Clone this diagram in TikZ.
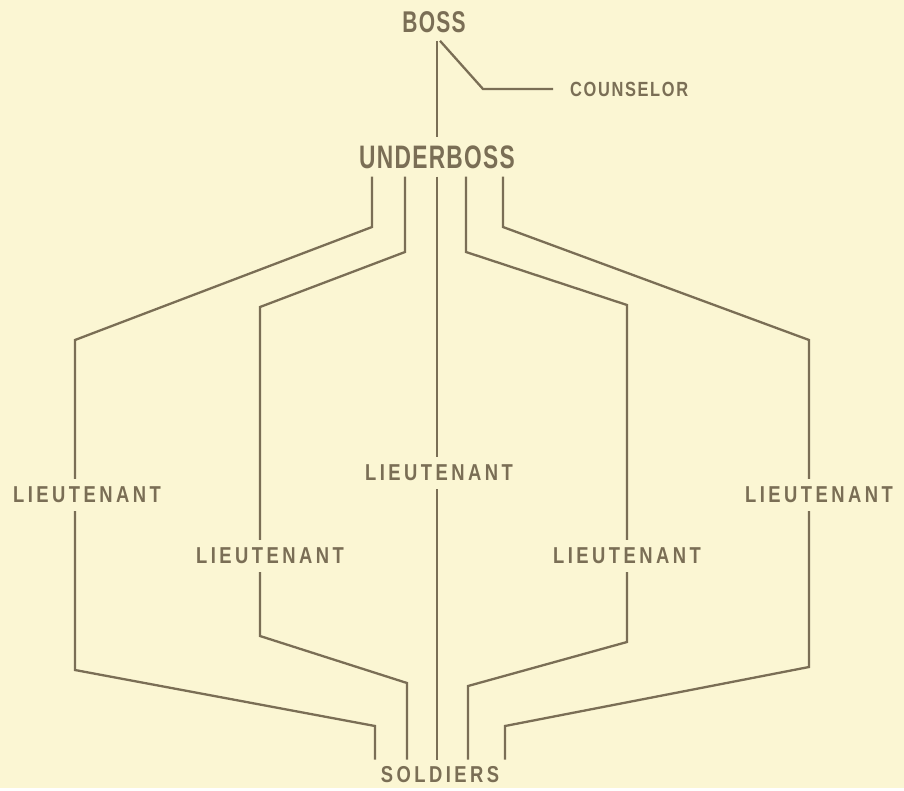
\documentclass[tikz,border=0pt]{standalone}
\usepackage{fontspec}
\usepackage{xcolor}
\usepackage{tikz}
\usetikzlibrary{positioning}
\newfontfamily\rankfont[FakeStretch=0.8,LetterSpace=15]{Liberation Sans Bold}
\newfontfamily\smallfont[FakeStretch=0.8,LetterSpace=8]{Liberation Sans Bold}
\newfontfamily\headfont[FakeStretch=0.7,LetterSpace=4]{Liberation Sans Bold}
\definecolor{paper}{RGB}{251,246,211}
\definecolor{ink}{RGB}{122,110,85}

\begin{document}
\begin{tikzpicture}[x=1pt, y=-1pt,
  head/.style={inner sep=8pt, text=ink, font=\headfont\fontsize{30}{30}\selectfont},
  rank/.style={inner xsep=6pt, inner ysep=8pt, text=ink, font=\rankfont\fontsize{23}{23}\selectfont},
  wire/.style={draw=ink, line width=2.3pt, line join=miter}
]
  \fill[paper] (0,0) rectangle (904,788);

  % top of the chart
  \node[head] (boss) at (434,22) {BOSS};
  \node[head, font=\headfont\fontsize{32.5}{32.5}\selectfont] (ub) at (437,157) {UNDERBOSS};
  \coordinate (cs) at (483,89);
  \node[rank, font=\smallfont\fontsize{20.5}{20.5}\selectfont, inner xsep=17pt,
        right=70pt of cs] (couns) {COUNSELOR};
  \draw[wire] (boss.south -| ub.north) -- (ub.north);
  \draw[wire] ([xshift=6pt]boss.south) -- (cs) -- (couns.west);

  % lieutenants and soldiers
  \node[rank] (lt1) at (87,495) {LIEUTENANT};
  \node[rank] (lt2) at (270,556) {LIEUTENANT};
  \node[rank] (lt3) at (439,473) {LIEUTENANT};
  \node[rank] (lt4) at (627,556) {LIEUTENANT};
  \node[rank] (lt5) at (819,495) {LIEUTENANT};
  \node[rank, inner ysep=7pt] (sold) at (440,775) {SOLDIERS};

  % bend points
  \coordinate (t1) at (372,227);
  \coordinate (t2) at (405,252);
  \coordinate (t4) at (466,252);
  \coordinate (t5) at (503,227);
  \coordinate (s1a) at (75,340);
  \coordinate (s2a) at (260,307);
  \coordinate (s4a) at (627,305);
  \coordinate (s5a) at (809,340);
  \coordinate (s1b) at (75,670);
  \coordinate (s2b) at (260,636);
  \coordinate (s4b) at (627,642);
  \coordinate (s5b) at (809,667);
  \coordinate (f1) at (375,726);
  \coordinate (f2) at (407,683);
  \coordinate (f4) at (468,686);
  \coordinate (f5) at (505,726);

  \draw[wire] (t1 |- ub.south) -- (t1) -- (s1a) -- (s1a |- lt1.north);
  \draw[wire] (s1a |- lt1.south) -- (s1b) -- (f1) -- (f1 |- sold.north);
  \draw[wire] (t2 |- ub.south) -- (t2) -- (s2a) -- (s2a |- lt2.north);
  \draw[wire] (s2a |- lt2.south) -- (s2b) -- (f2) -- (f2 |- sold.north);
  \draw[wire] (ub.south) -- (ub.south |- lt3.north);
  \draw[wire] (ub.south |- lt3.south) -- (ub.south |- sold.north);
  \draw[wire] (t4 |- ub.south) -- (t4) -- (s4a) -- (s4a |- lt4.north);
  \draw[wire] (s4a |- lt4.south) -- (s4b) -- (f4) -- (f4 |- sold.north);
  \draw[wire] (t5 |- ub.south) -- (t5) -- (s5a) -- (s5a |- lt5.north);
  \draw[wire] (s5a |- lt5.south) -- (s5b) -- (f5) -- (f5 |- sold.north);
\end{tikzpicture}
\end{document}
